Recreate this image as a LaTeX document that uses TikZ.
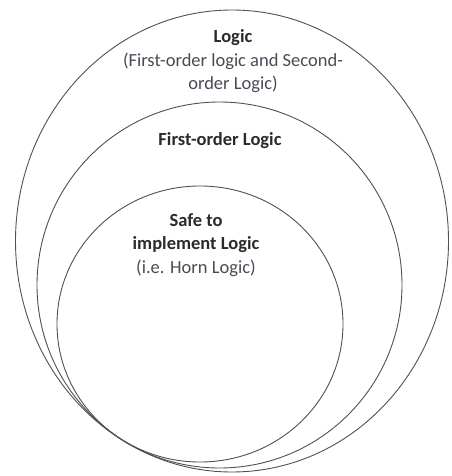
\documentclass[tikz,border=0pt]{standalone}
\usepackage{fontspec}
\setmainfont{Carlito}
\definecolor{linegray}{HTML}{505050}
\definecolor{txtdark}{HTML}{2A2A2A}
\definecolor{txtsoft}{HTML}{4A4A55}
\begin{document}
\begin{tikzpicture}[x=1pt,y=-1pt,
  ring/.style={draw=linegray,line width=0.9pt},
  lbl/.style={align=center,inner sep=0pt,font=\fontsize{18.5}{23}\selectfont}]
\useasboundingbox (0,0) rectangle (451,476);
\draw[ring] (232,241) ellipse [x radius=216.5, y radius=231];
\draw[ring] (219.5,285) ellipse [x radius=182.5, y radius=183];
\draw[ring] (200,324) ellipse [x radius=143, y radius=138];
\node[lbl,text=txtdark] (logic) at (233,38) {\textbf{Logic}};
\node[lbl,text=txtsoft] (logicsub) at (233,73) {(First-order logic and Second-\\order Logic)};
\node[lbl,text=txtdark] (fol) at (220,141) {\textbf{First-order Logic}};
\node[lbl,text=txtdark] (safe) at (196,233) {\textbf{Safe to}\\\textbf{implement Logic}};
\node[lbl,text=txtsoft] (horn) at (196,268) {(i.e. Horn Logic)};
\end{tikzpicture}
\end{document}
